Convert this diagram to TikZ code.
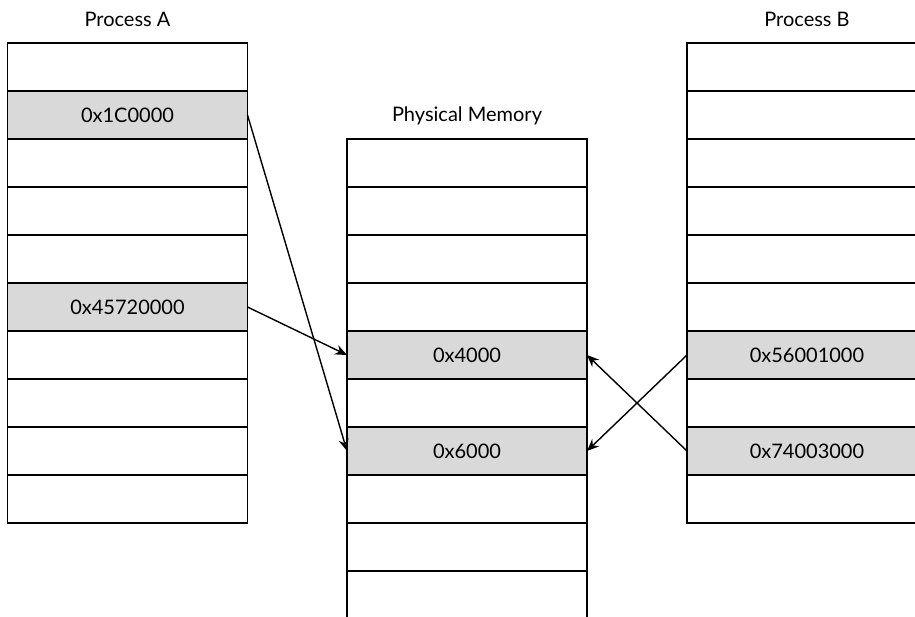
\documentclass[tikz,border=0pt]{standalone}
\usepackage{fontspec}
\setmainfont{Lato}
\usetikzlibrary{arrows.meta}
\definecolor{cellgray}{HTML}{D9D9D9}
\tikzset{
  cell/.style={draw=black, line width=1.2pt, minimum width=240pt, minimum height=48pt, inner sep=0pt, outer sep=0pt, font=\fontsize{20}{24}\selectfont, text=black},
  hicell/.style={cell, fill=cellgray},
  title/.style={font=\fontsize{20}{24}\selectfont, inner sep=0pt, text=black},
  link/.style={line width=1.4pt, -{Stealth[length=12pt,width=10pt]}}
}
\begin{document}
\begin{tikzpicture}[x=1pt,y=-1pt]
\clip (0,0) rectangle (915,616);
\fill[white] (0,0) rectangle (915,616);
% Process A
\node[title] (ta) at (127.5,19) {Process A};
\foreach \i in {1,...,10} {
  \node[cell] (a\i) at (127.5,{43+48*(\i-1)+24}) {};
}
\node[hicell] (a2) at (127.5,115) {0x1C0000};
\node[hicell] (a6) at (127.5,307) {0x45720000};
% Physical memory
\node[title] (tp) at (467,116) {Physical Memory};
\foreach \i in {1,...,10} {
  \node[cell] (p\i) at (467,{139+48*(\i-1)+24}) {};
}
\node[hicell] (p5) at (467,355) {0x4000};
\node[hicell] (p7) at (467,451) {0x6000};
% Process B
\node[title] (tb) at (807,19) {Process B};
\foreach \i in {1,...,10} {
  \node[cell] (b\i) at (807,{43+48*(\i-1)+24}) {};
}
\node[hicell] (b7) at (807,355) {0x56001000};
\node[hicell] (b9) at (807,451) {0x74003000};
% mappings
\draw[link] (a2.east) -- (p7.west);
\draw[link] (a6.east) -- (p5.west);
\draw[link] (b7.west) -- (p7.east);
\draw[link] (b9.west) -- (p5.east);
\end{tikzpicture}
\end{document}
